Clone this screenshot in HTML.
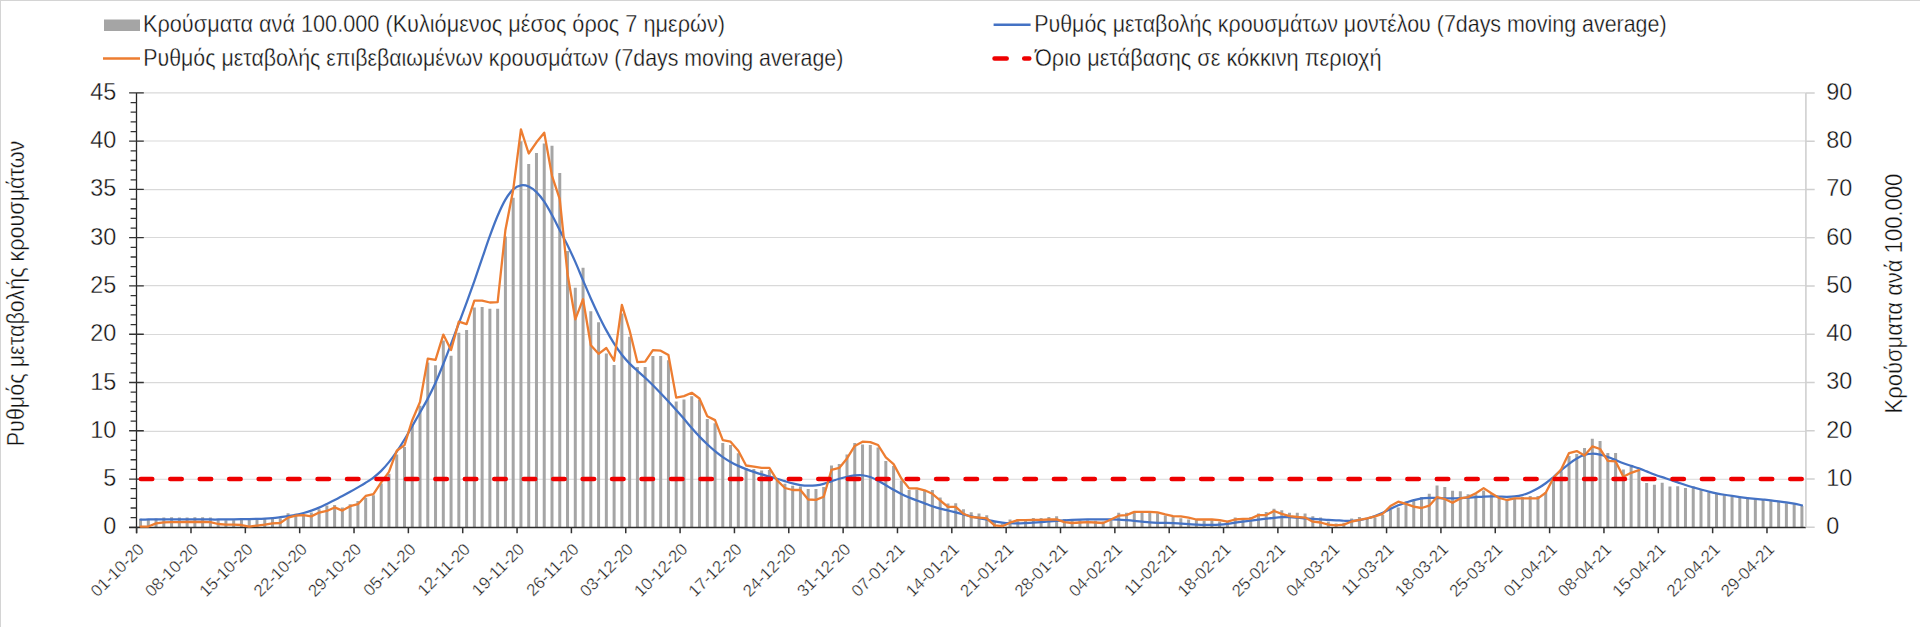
<!DOCTYPE html><html><head><meta charset="utf-8"><style>html,body{margin:0;padding:0;background:#fff;width:1920px;height:627px;overflow:hidden}svg{display:block}text{font-family:"Liberation Sans",sans-serif;fill:#111;stroke:#fff;stroke-width:0.35px}</style></head><body>
<svg width="1920" height="627" viewBox="0 0 1920 627">
<rect x="0" y="0" width="1920" height="627" fill="#fff"/>
<rect x="0" y="0" width="1920" height="1" fill="#d4d4d4"/><rect x="0" y="0" width="1" height="627" fill="#d4d4d4"/>
<path d="M136.65 479.25H1805.90M136.65 431.40H1805.90M136.65 382.60H1805.90M136.65 334.45H1805.90M136.65 285.60H1805.90M136.65 237.50H1805.90M136.65 189.58H1805.90M136.65 141.00H1805.90M136.65 92.92H1805.90" stroke="#d9d9d9" stroke-width="1.1" fill="none"/>
<path d="M139.03 518.70h3v8.60h-3zM146.80 519.00h3v8.30h-3zM154.56 518.50h3v8.80h-3zM162.32 517.40h3v9.90h-3zM170.09 517.20h3v10.10h-3zM177.85 517.40h3v9.90h-3zM185.61 517.40h3v9.90h-3zM193.38 517.30h3v10.00h-3zM201.14 517.20h3v10.10h-3zM208.90 517.50h3v9.80h-3zM216.67 519.54h3v7.76h-3zM224.43 520.18h3v7.12h-3zM232.19 520.18h3v7.12h-3zM239.96 519.92h3v7.38h-3zM247.72 519.54h3v7.76h-3zM255.48 519.54h3v7.76h-3zM263.25 518.90h3v8.40h-3zM271.01 518.90h3v8.40h-3zM278.77 518.26h3v9.04h-3zM286.54 513.16h3v14.14h-3zM294.30 513.80h3v13.50h-3zM302.07 514.43h3v12.87h-3zM309.83 512.52h3v14.78h-3zM317.59 509.33h3v17.97h-3zM325.36 505.50h3v21.80h-3zM333.12 505.12h3v22.18h-3zM340.88 507.42h3v19.88h-3zM348.65 504.23h3v23.07h-3zM356.41 501.04h3v26.26h-3zM364.17 497.85h3v29.45h-3zM371.94 495.30h3v32.00h-3zM379.70 483.40h3v43.90h-3zM387.46 473.80h3v53.50h-3zM395.23 454.60h3v72.70h-3zM402.99 447.00h3v80.30h-3zM410.75 425.00h3v102.30h-3zM418.52 405.80h3v121.50h-3zM426.28 362.40h3v164.90h-3zM434.04 365.30h3v162.00h-3zM441.81 340.40h3v186.90h-3zM449.57 355.70h3v171.60h-3zM457.34 332.70h3v194.60h-3zM465.10 329.90h3v197.40h-3zM472.86 307.50h3v219.80h-3zM480.63 306.90h3v220.40h-3zM488.39 308.80h3v218.50h-3zM496.15 308.80h3v218.50h-3zM503.92 236.50h3v290.80h-3zM511.68 197.80h3v329.50h-3zM519.44 141.20h3v386.10h-3zM527.21 164.00h3v363.30h-3zM534.97 153.00h3v374.30h-3zM542.73 143.40h3v383.90h-3zM550.50 145.70h3v381.60h-3zM558.26 173.10h3v354.20h-3zM566.02 251.00h3v276.30h-3zM573.79 287.80h3v239.50h-3zM581.55 267.70h3v259.60h-3zM589.31 311.30h3v216.00h-3zM597.08 322.20h3v205.10h-3zM604.84 353.50h3v173.80h-3zM612.61 365.00h3v162.30h-3zM620.37 313.40h3v213.90h-3zM628.13 336.70h3v190.60h-3zM635.90 367.00h3v160.30h-3zM643.66 367.00h3v160.30h-3zM651.42 355.90h3v171.40h-3zM659.19 355.90h3v171.40h-3zM666.95 360.30h3v167.00h-3zM674.71 401.40h3v125.90h-3zM682.48 399.50h3v127.80h-3zM690.24 396.30h3v131.00h-3zM698.00 399.50h3v127.80h-3zM705.77 419.10h3v108.20h-3zM713.53 423.30h3v104.00h-3zM721.29 443.10h3v84.20h-3zM729.06 445.00h3v82.30h-3zM736.82 453.20h3v74.10h-3zM744.58 467.90h3v59.40h-3zM752.35 468.90h3v58.40h-3zM760.11 470.40h3v56.90h-3zM767.88 469.90h3v57.40h-3zM775.64 479.40h3v47.90h-3zM783.40 483.80h3v43.50h-3zM791.17 485.70h3v41.60h-3zM798.93 486.50h3v40.80h-3zM806.69 489.00h3v38.30h-3zM814.46 489.00h3v38.30h-3zM822.22 487.10h3v40.20h-3zM829.98 465.50h3v61.80h-3zM837.75 464.10h3v63.20h-3zM845.51 454.50h3v72.80h-3zM853.27 443.10h3v84.20h-3zM861.04 444.60h3v82.70h-3zM868.80 445.00h3v82.30h-3zM876.56 447.50h3v79.80h-3zM884.33 460.90h3v66.40h-3zM892.09 466.00h3v61.30h-3zM899.85 480.40h3v46.90h-3zM907.62 490.00h3v37.30h-3zM915.38 489.60h3v37.70h-3zM923.15 490.90h3v36.40h-3zM930.91 490.00h3v37.30h-3zM938.67 497.60h3v29.70h-3zM946.44 503.60h3v23.70h-3zM954.20 503.30h3v24.00h-3zM961.96 509.30h3v18.00h-3zM969.73 512.30h3v15.00h-3zM977.49 513.50h3v13.80h-3zM985.25 515.30h3v12.00h-3zM993.02 521.50h3v5.80h-3zM1000.78 523.40h3v3.90h-3zM1008.54 519.50h3v7.80h-3zM1016.31 518.90h3v8.40h-3zM1024.07 518.90h3v8.40h-3zM1031.83 517.90h3v9.40h-3zM1039.60 517.90h3v9.40h-3zM1047.36 517.00h3v10.30h-3zM1055.12 516.30h3v11.00h-3zM1062.89 518.90h3v8.40h-3zM1070.65 520.80h3v6.50h-3zM1078.42 520.20h3v7.10h-3zM1086.18 520.20h3v7.10h-3zM1093.94 520.80h3v6.50h-3zM1101.71 521.50h3v5.80h-3zM1109.47 520.20h3v7.10h-3zM1117.23 512.80h3v14.50h-3zM1125.00 512.80h3v14.50h-3zM1132.76 512.50h3v14.80h-3zM1140.52 512.50h3v14.80h-3zM1148.29 512.50h3v14.80h-3zM1156.05 513.20h3v14.10h-3zM1163.81 515.40h3v11.90h-3zM1171.58 517.00h3v10.30h-3zM1179.34 518.30h3v9.00h-3zM1187.10 519.50h3v7.80h-3zM1194.87 519.90h3v7.40h-3zM1202.63 520.80h3v6.50h-3zM1210.39 520.20h3v7.10h-3zM1218.16 521.50h3v5.80h-3zM1225.92 520.80h3v6.50h-3zM1233.69 517.60h3v9.70h-3zM1241.45 518.30h3v9.00h-3zM1249.21 517.00h3v10.30h-3zM1256.98 513.40h3v13.90h-3zM1264.74 512.10h3v15.20h-3zM1272.50 508.70h3v18.60h-3zM1280.27 510.20h3v17.10h-3zM1288.03 512.80h3v14.50h-3zM1295.79 512.80h3v14.50h-3zM1303.56 513.40h3v13.90h-3zM1311.32 516.30h3v11.00h-3zM1319.08 517.40h3v9.90h-3zM1326.85 521.50h3v5.80h-3zM1334.61 523.40h3v3.90h-3zM1342.37 522.70h3v4.60h-3zM1350.14 518.60h3v8.70h-3zM1357.90 517.00h3v10.30h-3zM1365.66 518.30h3v9.00h-3zM1373.43 517.60h3v9.70h-3zM1381.19 515.10h3v12.20h-3zM1388.96 510.00h3v17.30h-3zM1396.72 507.40h3v19.90h-3zM1404.48 501.50h3v25.80h-3zM1412.25 500.00h3v27.30h-3zM1420.01 497.10h3v30.20h-3zM1427.77 493.80h3v33.50h-3zM1435.54 485.60h3v41.70h-3zM1443.30 487.10h3v40.20h-3zM1451.06 490.80h3v36.50h-3zM1458.83 491.30h3v36.00h-3zM1466.59 494.20h3v33.10h-3zM1474.35 494.20h3v33.10h-3zM1482.12 490.40h3v36.90h-3zM1489.88 494.20h3v33.10h-3zM1497.64 497.10h3v30.20h-3zM1505.41 499.00h3v28.30h-3zM1513.17 498.00h3v29.30h-3zM1520.93 497.10h3v30.20h-3zM1528.70 496.10h3v31.20h-3zM1536.46 496.10h3v31.20h-3zM1544.23 492.30h3v35.00h-3zM1551.99 479.90h3v47.40h-3zM1559.75 471.20h3v56.10h-3zM1567.52 455.90h3v71.40h-3zM1575.28 454.00h3v73.30h-3zM1583.04 447.90h3v79.40h-3zM1590.81 438.70h3v88.60h-3zM1598.57 441.00h3v86.30h-3zM1606.33 453.00h3v74.30h-3zM1614.10 453.00h3v74.30h-3zM1621.86 469.50h3v57.80h-3zM1629.62 466.60h3v60.70h-3zM1637.39 470.10h3v57.20h-3zM1645.15 483.10h3v44.20h-3zM1652.91 484.80h3v42.50h-3zM1660.68 482.80h3v44.50h-3zM1668.44 486.60h3v40.70h-3zM1676.20 486.20h3v41.10h-3zM1683.97 488.10h3v39.20h-3zM1691.73 486.60h3v40.70h-3zM1699.50 489.50h3v37.80h-3zM1707.26 492.40h3v34.90h-3zM1715.02 493.80h3v33.50h-3zM1722.79 495.30h3v32.00h-3zM1730.55 496.70h3v30.60h-3zM1738.31 497.40h3v29.90h-3zM1746.08 498.80h3v28.50h-3zM1753.84 499.60h3v27.70h-3zM1761.60 500.00h3v27.30h-3zM1769.37 501.00h3v26.30h-3zM1777.13 502.00h3v25.30h-3zM1784.89 503.20h3v24.10h-3zM1792.66 504.30h3v23.00h-3zM1800.42 506.00h3v21.30h-3z" fill="#a5a5a5"/>
<path d="M136.5 92.9V533.3" stroke="#262626" stroke-width="1.3" fill="none"/>
<path d="M129.1 527.30H143.8M130.6 517.65H136.5M130.6 507.99H136.5M130.6 498.34H136.5M130.6 488.69H136.5M129.1 479.03H143.8M130.6 469.38H136.5M130.6 459.73H136.5M130.6 450.08H136.5M130.6 440.42H136.5M129.1 430.77H143.8M130.6 421.12H136.5M130.6 411.46H136.5M130.6 401.81H136.5M130.6 392.16H136.5M129.1 382.50H143.8M130.6 372.85H136.5M130.6 363.20H136.5M130.6 353.55H136.5M130.6 343.89H136.5M129.1 334.24H143.8M130.6 324.59H136.5M130.6 314.93H136.5M130.6 305.28H136.5M130.6 295.63H136.5M129.1 285.97H143.8M130.6 276.32H136.5M130.6 266.67H136.5M130.6 257.02H136.5M130.6 247.36H136.5M129.1 237.71H143.8M130.6 228.06H136.5M130.6 218.40H136.5M130.6 208.75H136.5M130.6 199.10H136.5M129.1 189.44H143.8M130.6 179.79H136.5M130.6 170.14H136.5M130.6 160.49H136.5M130.6 150.83H136.5M129.1 141.18H143.8M130.6 131.53H136.5M130.6 121.87H136.5M130.6 112.22H136.5M130.6 102.57H136.5M129.1 92.91H143.8" stroke="#333" stroke-width="1.3" fill="none"/>
<path d="M129.1 527.5H1805.9" stroke="#2a2a2a" stroke-width="1.3" fill="none"/>
<path d="M136.65 527.3V533.3M190.99 527.3V533.3M245.34 527.3V533.3M299.68 527.3V533.3M354.03 527.3V533.3M408.37 527.3V533.3M462.72 527.3V533.3M517.06 527.3V533.3M571.41 527.3V533.3M625.75 527.3V533.3M680.09 527.3V533.3M734.44 527.3V533.3M788.78 527.3V533.3M843.13 527.3V533.3M897.47 527.3V533.3M951.82 527.3V533.3M1006.16 527.3V533.3M1060.51 527.3V533.3M1114.85 527.3V533.3M1169.20 527.3V533.3M1223.54 527.3V533.3M1277.88 527.3V533.3M1332.23 527.3V533.3M1386.57 527.3V533.3M1440.92 527.3V533.3M1495.26 527.3V533.3M1549.61 527.3V533.3M1603.95 527.3V533.3M1658.30 527.3V533.3M1712.64 527.3V533.3M1766.98 527.3V533.3" stroke="#333" stroke-width="1.5" fill="none"/>
<path d="M1805.9 92.9V527.3" stroke="#d0d0d0" stroke-width="1.6" fill="none"/>
<path d="M1805.9 527.30H1814.7M1805.9 479.03H1814.7M1805.9 430.77H1814.7M1805.9 382.50H1814.7M1805.9 334.24H1814.7M1805.9 285.97H1814.7M1805.9 237.70H1814.7M1805.9 189.44H1814.7M1805.9 141.17H1814.7M1805.9 92.91H1814.7" stroke="#d0d0d0" stroke-width="1.5" fill="none"/>
<path d="M140.53 519.54C141.83 519.53 145.71 519.50 148.30 519.49C150.88 519.47 153.47 519.45 156.06 519.44C158.65 519.42 161.23 519.40 163.82 519.38C166.41 519.37 169.00 519.35 171.59 519.33C174.17 519.32 176.76 519.31 179.35 519.31C181.94 519.31 184.52 519.32 187.11 519.33C189.70 519.35 192.29 519.37 194.88 519.38C197.46 519.40 200.05 519.42 202.64 519.44C205.23 519.45 207.82 519.48 210.40 519.49C212.99 519.50 215.58 519.51 218.17 519.49C220.75 519.48 223.34 519.44 225.93 519.41C228.52 519.37 231.11 519.32 233.69 519.28C236.28 519.24 238.87 519.20 241.46 519.15C244.05 519.11 246.63 519.08 249.22 519.03C251.81 518.98 254.40 518.93 256.98 518.85C259.57 518.78 262.16 518.71 264.75 518.58C267.34 518.45 269.92 518.30 272.51 518.07C275.10 517.84 277.69 517.50 280.27 517.18C282.86 516.85 285.45 516.50 288.04 516.11C290.63 515.72 293.21 515.37 295.80 514.85C298.39 514.33 300.98 513.71 303.57 513.00C306.15 512.29 308.74 511.50 311.33 510.61C313.92 509.71 316.50 508.74 319.09 507.63C321.68 506.51 324.27 505.18 326.86 503.91C329.44 502.64 332.03 501.31 334.62 500.00C337.21 498.69 339.79 497.43 342.38 496.08C344.97 494.72 347.56 493.30 350.15 491.85C352.73 490.40 355.32 488.89 357.91 487.37C360.50 485.86 363.09 484.38 365.67 482.75C368.26 481.12 370.85 479.55 373.44 477.57C376.02 475.60 378.61 473.45 381.20 470.88C383.79 468.30 386.38 465.33 388.96 462.12C391.55 458.92 394.14 455.40 396.73 451.62C399.32 447.85 401.90 443.75 404.49 439.50C407.08 435.25 409.67 430.62 412.25 426.12C414.84 421.63 417.43 417.11 420.02 412.52C422.61 407.94 425.19 403.59 427.78 398.62C430.37 393.66 432.96 388.49 435.54 382.73C438.13 376.96 440.72 370.50 443.31 364.02C445.90 357.55 448.48 350.65 451.07 343.88C453.66 337.10 456.25 330.28 458.84 323.40C461.42 316.52 464.01 309.66 466.60 302.60C469.19 295.54 471.77 288.42 474.36 281.05C476.95 273.68 479.54 265.90 482.13 258.38C484.71 250.85 487.30 243.00 489.89 235.90C492.48 228.80 495.06 221.82 497.65 215.78C500.24 209.73 502.83 204.05 505.42 199.65C508.00 195.25 510.59 191.77 513.18 189.38C515.77 186.98 518.36 185.78 520.94 185.30C523.53 184.82 526.12 185.34 528.71 186.47C531.29 187.61 533.88 189.59 536.47 192.12C539.06 194.66 541.65 197.85 544.23 201.67C546.82 205.50 549.41 210.30 552.00 215.05C554.59 219.80 557.17 225.17 559.76 230.20C562.35 235.23 564.94 239.94 567.52 245.22C570.11 250.51 572.70 256.03 575.29 261.90C577.88 267.77 580.46 274.34 583.05 280.43C585.64 286.51 588.23 292.64 590.81 298.43C593.40 304.21 595.99 309.82 598.58 315.15C601.17 320.47 603.75 325.63 606.34 330.38C608.93 335.12 611.52 339.56 614.11 343.62C616.69 347.69 619.28 351.44 621.87 354.77C624.46 358.11 627.04 360.95 629.63 363.62C632.22 366.30 634.81 368.45 637.40 370.80C639.98 373.15 642.57 375.34 645.16 377.75C647.75 380.16 650.33 382.69 652.92 385.28C655.51 387.86 658.10 390.55 660.69 393.25C663.27 395.95 665.86 398.70 668.45 401.50C671.04 404.30 673.63 407.13 676.21 410.03C678.80 412.92 681.39 415.85 683.98 418.85C686.56 421.85 689.15 425.03 691.74 428.00C694.33 430.97 696.92 433.94 699.50 436.65C702.09 439.36 704.68 441.82 707.27 444.25C709.86 446.68 712.44 449.05 715.03 451.20C717.62 453.35 720.21 455.38 722.79 457.18C725.38 458.97 727.97 460.50 730.56 461.95C733.15 463.40 735.73 464.68 738.32 465.88C740.91 467.07 743.50 468.10 746.08 469.10C748.67 470.10 751.26 470.99 753.85 471.88C756.44 472.76 759.02 473.62 761.61 474.40C764.20 475.18 766.79 475.85 769.38 476.58C771.96 477.30 774.55 477.96 777.14 478.72C779.73 479.49 782.31 480.39 784.90 481.17C787.49 481.96 790.08 482.78 792.67 483.43C795.25 484.07 797.84 484.64 800.43 485.02C803.02 485.41 805.60 485.68 808.19 485.73C810.78 485.78 813.37 485.65 815.96 485.32C818.54 485.00 821.13 484.47 823.72 483.80C826.31 483.13 828.90 482.17 831.48 481.32C834.07 480.48 836.66 479.49 839.25 478.73C841.83 477.96 844.42 477.28 847.01 476.73C849.60 476.17 852.19 475.65 854.77 475.40C857.36 475.15 859.95 474.97 862.54 475.25C865.13 475.53 867.71 476.15 870.30 477.05C872.89 477.95 875.48 479.29 878.06 480.65C880.65 482.01 883.24 483.67 885.83 485.20C888.42 486.73 891.00 488.38 893.59 489.85C896.18 491.32 898.77 492.73 901.35 494.00C903.94 495.27 906.53 496.40 909.12 497.48C911.71 498.55 914.29 499.50 916.88 500.47C919.47 501.45 922.06 502.37 924.65 503.32C927.23 504.28 929.82 505.31 932.41 506.20C935.00 507.09 937.58 507.93 940.17 508.65C942.76 509.37 945.35 509.88 947.94 510.50C950.52 511.12 953.11 511.75 955.70 512.40C958.29 513.05 960.87 513.75 963.46 514.40C966.05 515.05 968.64 515.71 971.23 516.33C973.81 516.94 976.40 517.54 978.99 518.10C981.58 518.66 984.17 519.17 986.75 519.70C989.34 520.23 991.93 520.82 994.52 521.30C997.10 521.78 999.69 522.25 1002.28 522.58C1004.87 522.90 1007.46 523.10 1010.04 523.23C1012.63 523.35 1015.22 523.33 1017.81 523.30C1020.40 523.27 1022.98 523.14 1025.57 523.03C1028.16 522.91 1030.75 522.78 1033.33 522.62C1035.92 522.47 1038.51 522.29 1041.10 522.10C1043.69 521.91 1046.27 521.69 1048.86 521.47C1051.45 521.26 1054.04 521.03 1056.62 520.83C1059.21 520.62 1061.80 520.43 1064.39 520.27C1066.98 520.12 1069.56 520.00 1072.15 519.88C1074.74 519.75 1077.33 519.64 1079.92 519.55C1082.50 519.46 1085.09 519.39 1087.68 519.35C1090.27 519.31 1092.85 519.31 1095.44 519.30C1098.03 519.29 1100.62 519.29 1103.21 519.30C1105.79 519.31 1108.38 519.30 1110.97 519.35C1113.56 519.40 1116.14 519.49 1118.73 519.62C1121.32 519.76 1123.91 519.97 1126.50 520.17C1129.08 520.38 1131.67 520.62 1134.26 520.88C1136.85 521.12 1139.44 521.42 1142.02 521.67C1144.61 521.93 1147.20 522.23 1149.79 522.42C1152.37 522.62 1154.96 522.76 1157.55 522.85C1160.14 522.94 1162.73 522.90 1165.31 522.95C1167.90 523.00 1170.49 523.04 1173.08 523.15C1175.67 523.26 1178.25 523.45 1180.84 523.60C1183.43 523.75 1186.02 523.92 1188.60 524.08C1191.19 524.23 1193.78 524.41 1196.37 524.55C1198.96 524.69 1201.54 524.84 1204.13 524.90C1206.72 524.96 1209.31 524.96 1211.89 524.90C1214.48 524.84 1217.07 524.73 1219.66 524.55C1222.25 524.37 1224.83 524.13 1227.42 523.83C1230.01 523.52 1232.60 523.09 1235.19 522.73C1237.77 522.36 1240.36 521.97 1242.95 521.62C1245.54 521.28 1248.12 520.98 1250.71 520.65C1253.30 520.32 1255.89 520.00 1258.48 519.67C1261.06 519.35 1263.65 519.04 1266.24 518.73C1268.83 518.41 1271.41 518.04 1274.00 517.77C1276.59 517.51 1279.18 517.25 1281.77 517.15C1284.35 517.05 1286.94 517.07 1289.53 517.15C1292.12 517.23 1294.71 517.44 1297.29 517.62C1299.88 517.81 1302.47 518.06 1305.06 518.27C1307.64 518.49 1310.23 518.70 1312.82 518.90C1315.41 519.10 1318.00 519.29 1320.58 519.45C1323.17 519.61 1325.76 519.74 1328.35 519.88C1330.94 520.01 1333.52 520.13 1336.11 520.28C1338.70 520.42 1341.29 520.65 1343.87 520.75C1346.46 520.85 1349.05 521.00 1351.64 520.90C1354.23 520.80 1356.81 520.55 1359.40 520.15C1361.99 519.75 1364.58 519.15 1367.16 518.47C1369.75 517.80 1372.34 517.04 1374.93 516.10C1377.52 515.16 1380.10 514.05 1382.69 512.85C1385.28 511.65 1387.87 510.13 1390.46 508.88C1393.04 507.62 1395.63 506.37 1398.22 505.32C1400.81 504.28 1403.39 503.49 1405.98 502.62C1408.57 501.76 1411.16 500.85 1413.75 500.12C1416.33 499.40 1418.92 498.67 1421.51 498.28C1424.10 497.88 1426.68 497.82 1429.27 497.77C1431.86 497.73 1434.45 497.94 1437.04 498.02C1439.62 498.11 1442.21 498.25 1444.80 498.30C1447.39 498.35 1449.98 498.35 1452.56 498.30C1455.15 498.25 1457.74 498.14 1460.33 498.03C1462.91 497.91 1465.50 497.78 1468.09 497.62C1470.68 497.47 1473.27 497.28 1475.85 497.10C1478.44 496.92 1481.03 496.68 1483.62 496.55C1486.21 496.42 1488.79 496.30 1491.38 496.30C1493.97 496.30 1496.56 496.47 1499.14 496.55C1501.73 496.63 1504.32 496.82 1506.91 496.80C1509.50 496.78 1512.08 496.74 1514.67 496.45C1517.26 496.16 1519.85 495.76 1522.43 495.05C1525.02 494.34 1527.61 493.33 1530.20 492.20C1532.79 491.07 1535.37 489.75 1537.96 488.25C1540.55 486.75 1543.14 485.10 1545.73 483.23C1548.31 481.35 1550.90 479.15 1553.49 477.00C1556.08 474.85 1558.66 472.50 1561.25 470.30C1563.84 468.10 1566.43 465.81 1569.02 463.82C1571.60 461.84 1574.19 459.88 1576.78 458.40C1579.37 456.92 1581.95 455.70 1584.54 454.92C1587.13 454.15 1589.72 453.79 1592.31 453.75C1594.89 453.71 1597.48 454.15 1600.07 454.70C1602.66 455.25 1605.25 456.14 1607.83 457.05C1610.42 457.96 1613.01 459.11 1615.60 460.15C1618.18 461.19 1620.77 462.35 1623.36 463.30C1625.95 464.25 1628.54 464.98 1631.12 465.82C1633.71 466.67 1636.30 467.42 1638.89 468.35C1641.48 469.28 1644.06 470.39 1646.65 471.40C1649.24 472.41 1651.83 473.47 1654.41 474.43C1657.00 475.38 1659.59 476.25 1662.18 477.12C1664.77 478.00 1667.35 478.78 1669.94 479.65C1672.53 480.52 1675.12 481.43 1677.70 482.32C1680.29 483.22 1682.88 484.18 1685.47 485.02C1688.06 485.87 1690.64 486.62 1693.23 487.38C1695.82 488.12 1698.41 488.83 1701.00 489.53C1703.58 490.23 1706.17 490.94 1708.76 491.58C1711.35 492.21 1713.93 492.80 1716.52 493.32C1719.11 493.85 1721.70 494.31 1724.29 494.75C1726.87 495.19 1729.46 495.59 1732.05 495.98C1734.64 496.36 1737.22 496.73 1739.81 497.08C1742.40 497.42 1744.99 497.73 1747.58 498.03C1750.16 498.32 1752.75 498.57 1755.34 498.83C1757.93 499.08 1760.52 499.31 1763.10 499.57C1765.69 499.84 1768.28 500.10 1770.87 500.40C1773.45 500.70 1776.04 501.04 1778.63 501.38C1781.22 501.71 1783.81 502.02 1786.39 502.40C1788.98 502.77 1791.57 503.14 1794.16 503.62C1796.75 504.11 1800.63 505.02 1801.92 505.30" fill="none" stroke="#4472c4" stroke-width="2.25" stroke-linejoin="round" stroke-linecap="round"/>
<polyline points="140.53,526.56 148.30,526.56 156.06,523.37 163.82,522.40 171.59,522.20 179.35,522.20 187.11,522.00 194.88,521.80 202.64,522.00 210.40,522.09 218.17,524.00 225.93,524.64 233.69,524.64 241.46,525.02 249.22,526.56 256.98,525.53 264.75,524.64 272.51,523.37 280.27,522.98 288.04,517.62 295.80,515.71 303.57,515.07 311.33,516.35 319.09,512.52 326.86,510.99 334.62,507.42 342.38,510.61 350.15,506.14 357.91,504.23 365.67,495.93 373.44,494.02 381.20,482.40 388.96,471.90 396.73,450.80 404.49,445.10 412.25,420.20 420.02,402.00 427.78,358.60 435.54,359.90 443.31,334.60 451.07,350.00 458.84,321.60 466.60,324.10 474.36,300.60 482.13,300.60 489.89,302.50 497.65,302.10 505.42,230.00 513.18,190.00 520.94,129.40 528.71,153.50 536.47,142.30 544.23,132.70 552.00,175.80 559.76,199.20 567.52,274.00 575.29,319.30 583.05,299.20 590.81,345.20 598.58,353.80 606.34,348.00 614.11,360.70 621.87,304.80 629.63,330.50 637.40,362.20 645.16,361.60 652.92,350.10 660.69,350.70 668.45,355.10 676.21,397.60 683.98,396.10 691.74,392.80 699.50,398.50 707.27,416.30 715.03,420.10 722.79,440.20 730.56,441.70 738.32,450.70 746.08,465.50 753.85,466.60 761.61,467.90 769.38,467.90 777.14,480.40 784.90,488.00 792.67,490.00 800.43,490.00 808.19,499.50 815.96,499.90 823.72,496.70 831.48,469.90 839.25,467.90 847.01,458.40 854.77,445.90 862.54,441.70 870.30,442.10 878.06,445.00 885.83,457.40 893.59,464.10 901.35,478.50 909.12,488.40 916.88,488.40 924.65,490.30 932.41,493.80 940.17,500.50 947.94,506.80 955.70,506.80 963.46,513.80 971.23,517.00 978.99,517.60 986.75,518.30 994.52,525.30 1002.28,526.20 1010.04,522.70 1017.81,520.20 1025.57,520.20 1033.33,519.90 1041.10,519.90 1048.86,519.50 1056.62,519.30 1064.39,522.10 1072.15,523.00 1079.92,522.50 1087.68,522.10 1095.44,522.50 1103.21,523.00 1110.97,519.50 1118.73,515.70 1126.50,515.10 1134.26,511.90 1142.02,511.90 1149.79,511.90 1157.55,512.30 1165.31,514.30 1173.08,516.10 1180.84,516.30 1188.60,517.60 1196.37,519.50 1204.13,519.50 1211.89,519.50 1219.66,520.20 1227.42,521.70 1235.19,519.50 1242.95,518.90 1250.71,518.60 1258.48,515.10 1266.24,515.10 1274.00,511.00 1281.77,513.80 1289.53,516.10 1297.29,517.00 1305.06,517.60 1312.82,521.70 1320.58,522.50 1328.35,524.60 1336.11,525.30 1343.87,524.60 1351.64,521.50 1359.40,519.90 1367.16,518.30 1374.93,516.30 1382.69,513.80 1390.46,506.10 1398.22,501.70 1405.98,503.80 1413.75,506.70 1421.51,508.00 1429.27,505.70 1437.04,497.10 1444.80,499.00 1452.56,502.80 1460.33,498.40 1468.09,497.10 1475.85,493.30 1483.62,488.10 1491.38,493.30 1499.14,498.00 1506.91,500.00 1514.67,498.40 1522.43,498.40 1530.20,498.40 1537.96,498.40 1545.73,492.70 1553.49,477.90 1561.25,469.30 1569.02,453.10 1576.78,451.10 1584.54,455.60 1592.31,446.40 1600.07,449.00 1607.83,460.80 1615.60,461.40 1623.36,476.80 1631.12,472.80 1638.89,470.10" fill="none" stroke="#ed7d31" stroke-width="2.3" stroke-linejoin="round" stroke-linecap="round"/>
<path d="M140.8 479.03H1802" stroke="#ee0000" stroke-width="4.5" stroke-dasharray="11.5 17.954" stroke-linecap="round" fill="none"/>
<text x="116.2" y="534.30" font-size="23.4" text-anchor="end">0</text>
<text x="1826.3" y="534.10" font-size="23.4">0</text>
<text x="116.2" y="486.03" font-size="23.4" text-anchor="end">5</text>
<text x="1826.3" y="485.83" font-size="23.4">10</text>
<text x="116.2" y="437.77" font-size="23.4" text-anchor="end">10</text>
<text x="1826.3" y="437.57" font-size="23.4">20</text>
<text x="116.2" y="389.50" font-size="23.4" text-anchor="end">15</text>
<text x="1826.3" y="389.30" font-size="23.4">30</text>
<text x="116.2" y="341.24" font-size="23.4" text-anchor="end">20</text>
<text x="1826.3" y="341.04" font-size="23.4">40</text>
<text x="116.2" y="292.97" font-size="23.4" text-anchor="end">25</text>
<text x="1826.3" y="292.77" font-size="23.4">50</text>
<text x="116.2" y="244.70" font-size="23.4" text-anchor="end">30</text>
<text x="1826.3" y="244.50" font-size="23.4">60</text>
<text x="116.2" y="196.44" font-size="23.4" text-anchor="end">35</text>
<text x="1826.3" y="196.24" font-size="23.4">70</text>
<text x="116.2" y="148.17" font-size="23.4" text-anchor="end">40</text>
<text x="1826.3" y="147.97" font-size="23.4">80</text>
<text x="116.2" y="99.91" font-size="23.4" text-anchor="end">45</text>
<text x="1826.3" y="99.71" font-size="23.4">90</text>
<text transform="translate(145.05,550.3) rotate(-45)" font-size="16.8" text-anchor="end">01-10-20</text>
<text transform="translate(199.39,550.3) rotate(-45)" font-size="16.8" text-anchor="end">08-10-20</text>
<text transform="translate(253.74,550.3) rotate(-45)" font-size="16.8" text-anchor="end">15-10-20</text>
<text transform="translate(308.08,550.3) rotate(-45)" font-size="16.8" text-anchor="end">22-10-20</text>
<text transform="translate(362.43,550.3) rotate(-45)" font-size="16.8" text-anchor="end">29-10-20</text>
<text transform="translate(416.77,550.3) rotate(-45)" font-size="16.8" text-anchor="end">05-11-20</text>
<text transform="translate(471.12,550.3) rotate(-45)" font-size="16.8" text-anchor="end">12-11-20</text>
<text transform="translate(525.46,550.3) rotate(-45)" font-size="16.8" text-anchor="end">19-11-20</text>
<text transform="translate(579.81,550.3) rotate(-45)" font-size="16.8" text-anchor="end">26-11-20</text>
<text transform="translate(634.15,550.3) rotate(-45)" font-size="16.8" text-anchor="end">03-12-20</text>
<text transform="translate(688.49,550.3) rotate(-45)" font-size="16.8" text-anchor="end">10-12-20</text>
<text transform="translate(742.84,550.3) rotate(-45)" font-size="16.8" text-anchor="end">17-12-20</text>
<text transform="translate(797.18,550.3) rotate(-45)" font-size="16.8" text-anchor="end">24-12-20</text>
<text transform="translate(851.53,550.3) rotate(-45)" font-size="16.8" text-anchor="end">31-12-20</text>
<text transform="translate(905.87,550.3) rotate(-45)" font-size="16.8" text-anchor="end">07-01-21</text>
<text transform="translate(960.22,550.3) rotate(-45)" font-size="16.8" text-anchor="end">14-01-21</text>
<text transform="translate(1014.56,550.3) rotate(-45)" font-size="16.8" text-anchor="end">21-01-21</text>
<text transform="translate(1068.91,550.3) rotate(-45)" font-size="16.8" text-anchor="end">28-01-21</text>
<text transform="translate(1123.25,550.3) rotate(-45)" font-size="16.8" text-anchor="end">04-02-21</text>
<text transform="translate(1177.60,550.3) rotate(-45)" font-size="16.8" text-anchor="end">11-02-21</text>
<text transform="translate(1231.94,550.3) rotate(-45)" font-size="16.8" text-anchor="end">18-02-21</text>
<text transform="translate(1286.28,550.3) rotate(-45)" font-size="16.8" text-anchor="end">25-02-21</text>
<text transform="translate(1340.63,550.3) rotate(-45)" font-size="16.8" text-anchor="end">04-03-21</text>
<text transform="translate(1394.97,550.3) rotate(-45)" font-size="16.8" text-anchor="end">11-03-21</text>
<text transform="translate(1449.32,550.3) rotate(-45)" font-size="16.8" text-anchor="end">18-03-21</text>
<text transform="translate(1503.66,550.3) rotate(-45)" font-size="16.8" text-anchor="end">25-03-21</text>
<text transform="translate(1558.01,550.3) rotate(-45)" font-size="16.8" text-anchor="end">01-04-21</text>
<text transform="translate(1612.35,550.3) rotate(-45)" font-size="16.8" text-anchor="end">08-04-21</text>
<text transform="translate(1666.70,550.3) rotate(-45)" font-size="16.8" text-anchor="end">15-04-21</text>
<text transform="translate(1721.04,550.3) rotate(-45)" font-size="16.8" text-anchor="end">22-04-21</text>
<text transform="translate(1775.38,550.3) rotate(-45)" font-size="16.8" text-anchor="end">29-04-21</text>
<text transform="translate(24,446.3) rotate(-90)" font-size="24" textLength="305.7" lengthAdjust="spacingAndGlyphs">Ρυθμός μεταβολής κρουσμάτων</text>
<text transform="translate(1901.5,413.5) rotate(-90)" font-size="24" textLength="239.7" lengthAdjust="spacingAndGlyphs">Κρούσματα ανά 100.000</text>
<rect x="104" y="19.5" width="36" height="11.5" fill="#a5a5a5"/>
<text x="143" y="31.8" font-size="24" textLength="582" lengthAdjust="spacingAndGlyphs">Κρούσματα ανά 100.000 (Κυλιόμενος μέσος όρος 7 ημερών)</text>
<path d="M103 58.5H140" stroke="#ed7d31" stroke-width="2.5"/>
<text x="143.3" y="65.5" font-size="24" textLength="700" lengthAdjust="spacingAndGlyphs">Ρυθμός μεταβολής επιβεβαιωμένων κρουσμάτων (7days moving average)</text>
<path d="M993.6 24.8H1030.6" stroke="#4472c4" stroke-width="2.5"/>
<text x="1034.2" y="31.8" font-size="24" textLength="632.4" lengthAdjust="spacingAndGlyphs">Ρυθμός μεταβολής κρουσμάτων μοντέλου (7days moving average)</text>
<path d="M994.5 58.5H1006.7M1024.2 58.5H1029.3" stroke="#ee0000" stroke-width="4.5" stroke-linecap="round"/>
<text x="1035" y="65.5" font-size="24" textLength="346.5" lengthAdjust="spacingAndGlyphs">Όριο μετάβασης σε κόκκινη περιοχή</text>
</svg></body></html>
